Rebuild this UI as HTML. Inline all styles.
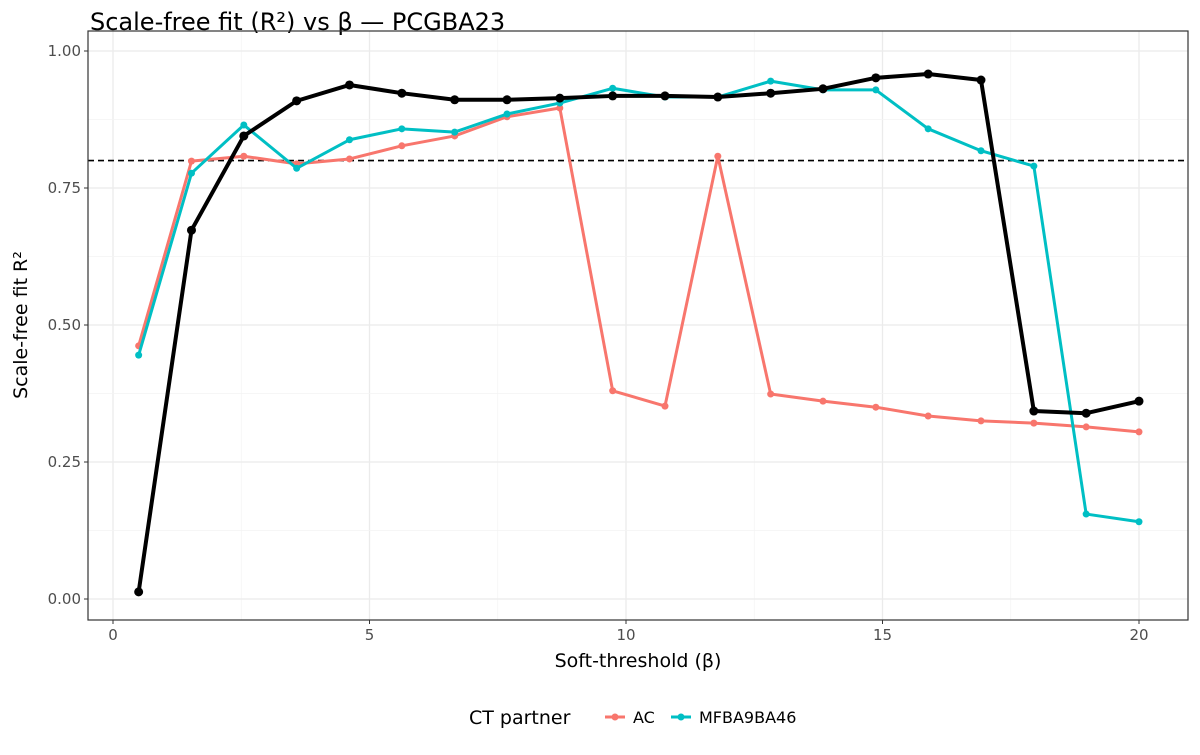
<!DOCTYPE html>
<html><head><meta charset="utf-8"><style>
body{margin:0;background:#fff;font-family:"Liberation Sans","DejaVu Sans",sans-serif}
</style></head><body>
<svg id="c" width="1200" height="750" xmlns="http://www.w3.org/2000/svg" style="font-family:'DejaVu Sans','Liberation Sans',sans-serif">
<text x="90" y="30" font-size="24" fill="#000">Scale-free fit (R²) vs β — PCGBA23</text>
<g id="grid"></g><g id="series"></g><g id="axes"></g>
<text x="638" y="667" font-size="19" text-anchor="middle">Soft-threshold (β)</text>
<text transform="translate(27,325) rotate(-90)" font-size="19" text-anchor="middle">Scale-free fit R²</text>
<g>
<text x="469" y="724" font-size="19">CT partner</text>
<g><line x1="605" y1="717" x2="625" y2="717" stroke="#F8766D" stroke-width="3"/><circle cx="615" cy="717" r="3.5" fill="#F8766D"/><text x="633" y="723" font-size="16">AC</text></g>
<g><line x1="671" y1="717" x2="691" y2="717" stroke="#00BFC4" stroke-width="3"/><circle cx="681" cy="717" r="3.5" fill="#00BFC4"/><text x="699" y="723" font-size="16">MFBA9BA46</text></g>
</g>
</svg>
<script>
const betas=[0.5,1.53,2.55,3.58,4.61,5.63,6.66,7.68,8.71,9.74,10.76,11.79,12.82,13.84,14.87,15.89,16.92,17.95,18.97,20];
const overall=[0.013,0.673,0.845,0.909,0.938,0.923,0.911,0.911,0.914,0.918,0.918,0.916,0.923,0.931,0.951,0.958,0.947,0.343,0.339,0.361];
const ac=[0.462,0.799,0.808,0.794,0.803,0.827,0.845,0.880,0.896,0.380,0.352,0.808,0.374,0.361,0.350,0.334,0.325,0.321,0.314,0.305];
const mf=[0.445,0.777,0.865,0.786,0.838,0.858,0.852,0.885,0.905,0.932,0.916,0.916,0.945,0.929,0.929,0.858,0.818,0.790,0.155,0.141];
const xTicks=[0,5,10,15,20];
const yTicks=[0,0.25,0.5,0.75,1];
const yTickLabels=["0.00","0.25","0.50","0.75","1.00"];
const threshold=0.8;
const NS="http://www.w3.org/2000/svg";
const X=v=>113+v*51.3, Y=v=>599-v*548;
const L={x0:88,x1:1188,y0:31,y1:620};
function mk(t,a,p){const e=document.createElementNS(NS,t);for(const k in a)e.setAttribute(k,a[k]);p.appendChild(e);return e;}
const grid=document.getElementById('grid'),ser=document.getElementById('series'),ax=document.getElementById('axes');
for(let i=0;i<xTicks.length;i++){
 const g=mk('line',{x1:X(xTicks[i]),x2:X(xTicks[i]),y1:L.y0,y2:L.y1,stroke:'#ebebeb','stroke-width':1.3},grid);
 
 if(i<xTicks.length-1){const m=(xTicks[i]+xTicks[i+1])/2;mk('line',{x1:X(m),x2:X(m),y1:L.y0,y2:L.y1,stroke:'#f3f3f3','stroke-width':0.8},grid);}
}
for(let i=0;i<yTicks.length;i++){
 const g=mk('line',{x1:L.x0,x2:L.x1,y1:Y(yTicks[i]),y2:Y(yTicks[i]),stroke:'#ebebeb','stroke-width':1.3},grid);
 
 if(i<yTicks.length-1){const m=(yTicks[i]+yTicks[i+1])/2;mk('line',{x1:L.x0,x2:L.x1,y1:Y(m),y2:Y(m),stroke:'#f3f3f3','stroke-width':0.8},grid);}
}
const th=mk('line',{x1:L.x0,x2:L.x1,y1:Y(threshold),y2:Y(threshold),stroke:'#000','stroke-width':1.6,'stroke-dasharray':'6,4'},ser);

function series(vals,col,w,r,name){
 const p=mk('polyline',{points:vals.map((v,i)=>X(betas[i])+','+Y(v)).join(' '),fill:'none',stroke:col,'stroke-width':w,'stroke-linejoin':'round'},ser);
 
 vals.forEach((v,i)=>{const c=mk('circle',{cx:X(betas[i]),cy:Y(v),r:r,fill:col},ser);
  });
}
series(ac,'#F8766D',3,3.5,'ac');
series(mf,'#00BFC4',3,3.5,'mfba9ba46');
series(overall,'#000',4,4.5,'overall');
const fr=mk('rect',{x:L.x0,y:L.y0,width:L.x1-L.x0,height:L.y1-L.y0,fill:'none',stroke:'#333','stroke-width':1.2},ax);

xTicks.forEach(v=>{mk('line',{x1:X(v),x2:X(v),y1:L.y1,y2:L.y1+4,stroke:'#333'},ax);
 const t=mk('text',{x:X(v),y:L.y1+20,'font-size':15,fill:'#4d4d4d','text-anchor':'middle'},ax);t.textContent=v;
 });
yTicks.forEach((v,i)=>{mk('line',{x1:L.x0-4,x2:L.x0,y1:Y(v),y2:Y(v),stroke:'#333'},ax);
 const t=mk('text',{x:L.x0-7,y:Y(v)+5,'font-size':15,fill:'#4d4d4d','text-anchor':'end'},ax);t.textContent=yTickLabels[i];
 });
</script>
</body></html>
